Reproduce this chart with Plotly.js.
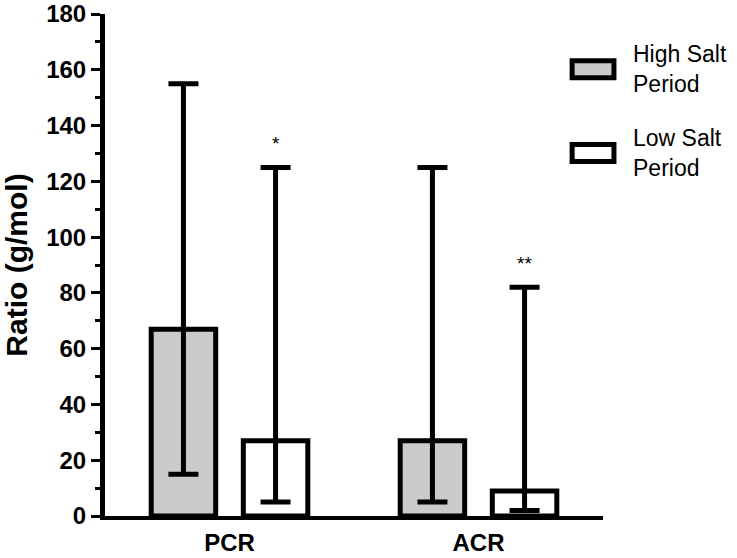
<!DOCTYPE html>
<html>
<head>
<meta charset="utf-8">
<script src="https://cdn.plot.ly/plotly-3.0.1.min.js"></script>
<style>
  body { margin: 0; background: #fff; }
  #chart { width: 737px; height: 558px; }
</style>
</head>
<body>
<div id="chart"></div>
<script>
// groups on the x axis
const categories = ["PCR", "ACR"];

// bar heights
const highSalt = [67, 27];
const lowSalt = [27, 9];

// error bar ends (low / high)
const highSaltLo = [15, 5];
const highSaltHi = [155, 125];
const lowSaltLo = [5, 2];
const lowSaltHi = [125, 82];

// significance marks over the low salt bars
const lowSaltMarks = ["*", "**"];

const seriesNames = ["High Salt<br>Period", "Low Salt<br>Period"];
const yTicks = [0, 20, 40, 60, 80, 100, 120, 140, 160, 180];

function errorBars(vals, lo, hi) {
    return {
        type: "data",
        symmetric: false,
        array: vals.map((v, i) => hi[i] - v),
        arrayminus: vals.map((v, i) => v - lo[i]),
        color: "#000",
        thickness: 5,
        width: 15
    };
}

const traces = [{
    x: categories,
    y: highSalt,
    type: "bar",
    name: seriesNames[0],
    marker: {color: "#cbcbcb", line: {color: "#000", width: 5}},
    error_y: errorBars(highSalt, highSaltLo, highSaltHi),
    showlegend: false
}, {
    x: categories,
    y: lowSalt,
    type: "bar",
    name: seriesNames[1],
    marker: {color: "#ffffff", line: {color: "#000", width: 5}},
    error_y: errorBars(lowSalt, lowSaltLo, lowSaltHi),
    showlegend: false
}];

// stars above the low salt error bars
let annotations = categories.map((c, i) => ({
    x: c,
    y: lowSaltHi[i] + 4,
    xref: "x",
    yref: "y",
    xshift: 46,
    yanchor: "bottom",
    text: lowSaltMarks[i],
    showarrow: false,
    font: {family: "Arial, Liberation Sans", size: 19, color: "#000"}
}));

// hand-drawn legend on the right
const legendFill = ["#cbcbcb", "#ffffff"];
const legendY = [0.89, 0.723];
let shapes = [];
seriesNames.forEach((name, i) => {
    shapes.push({
        type: "rect",
        xref: "paper",
        yref: "paper",
        x0: 0.938, x1: 1.022,
        y0: legendY[i] - 0.017, y1: legendY[i] + 0.017,
        fillcolor: legendFill[i],
        line: {color: "#000", width: 5}
    });
    annotations.push({
        xref: "paper",
        yref: "paper",
        x: 1.056,
        y: legendY[i],
        xanchor: "left",
        yanchor: "middle",
        align: "left",
        text: name,
        showarrow: false,
        font: {family: "Arial, Liberation Sans", size: 23, color: "#000"}
    });
});

const layout = {
    width: 737,
    height: 558,
    margin: {l: 105, r: 134, t: 14, b: 42},
    paper_bgcolor: "#fff",
    plot_bgcolor: "#fff",
    barmode: "group",
    bargap: 0.26,
    bargroupgap: 0.3,
    font: {family: "Arial, Liberation Sans", color: "#000"},
    xaxis: {
        type: "category",
        range: [-0.5, 1.5],
        showline: true,
        linecolor: "#000",
        linewidth: 4,
        ticks: "",
        ticklabelstandoff: 2,
        showgrid: false,
        zeroline: false,
        tickfont: {family: "Arial, Liberation Sans", size: 24, color: "#000", weight: "bold"}
    },
    yaxis: {
        range: [0, 180],
        tickvals: yTicks,
        showline: true,
        linecolor: "#000",
        linewidth: 5,
        ticks: "outside",
        ticklen: 9,
        tickwidth: 3,
        tickcolor: "#000",
        minor: {dtick: 10, ticks: "outside", ticklen: 5, tickwidth: 3, tickcolor: "#000"},
        showgrid: false,
        zeroline: false,
        tickfont: {family: "Arial, Liberation Sans", size: 24, color: "#000", weight: "bold"},
        title: {
            text: "Ratio (g/mol)",
            standoff: 14,
            font: {family: "Arial, Liberation Sans", size: 30, color: "#000", weight: "bold"}
        }
    },
    shapes: shapes,
    annotations: annotations
};

Plotly.newPlot("chart", traces, layout, {displayModeBar: false, staticPlot: true});
</script>
</body>
</html>
